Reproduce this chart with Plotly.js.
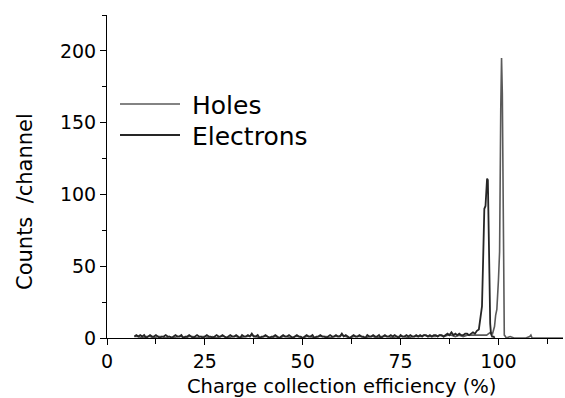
<!DOCTYPE html>
<html><head><meta charset="utf-8">
<script src="https://cdn.plot.ly/plotly-3.0.1.min.js"></script>
<style>html,body{margin:0;padding:0;background:#fff}#chart{width:565px;height:398px}</style>
</head><body><div id="chart"></div>
<script>
// Channel positions (% CCE) and counts per channel
const holesX = [7,8,9,10,11,12,13,14,15,16,17,18,19,20,21,22,23,24,25,26,27,28,29,30,31,32,33,34,35,36,37,38,39,40,41,42,43,44,45,46,47,48,49,50,51,52,53,54,55,56,57,58,59,60,61,62,63,64,65,66,67,68,69,70,71,72,73,74,75,76,77,78,79,80,81,82,83,84,85,86,87,88,89,90,91,92,93,94,95,96,97,97.5,98,98.5,99,99.3,99.6,100.0,100.3,100.6,100.8,101.0,101.3,101.5,101.8,102,103,104,105,106,107,108,108.3,108.6,110,112,115,117];
const holesY = [1,1,0,1,1,0,1,1,0,1,0,1,1,0,1,1,0,1,1,0,1,0,1,1,0,1,1,0,1,1,2,1,0,1,1,0,1,0,1,1,0,1,1,0,1,1,0,1,1,1,0,1,1,2,1,0,1,1,1,0,1,1,0,1,1,1,0,1,1,1,0,1,1,1,2,1,1,1,2,1,2,2,1,2,1,2,2,2,2,2,2,3,4,3,8,16,20,40,60,160,195,170,20,2,1,0,1,0,0,0,0,1,2,0,0,0,0,0];
const elecX = [7,7.5,8,8.5,9,9.5,10,10.5,11,11.5,12,12.5,13,13.5,14,14.5,15,15.5,16,16.5,17,17.5,18,18.5,19,19.5,20,20.5,21,21.5,22,22.5,23,23.5,24,24.5,25,25.5,26,26.5,27,27.5,28,28.5,29,29.5,30,30.5,31,31.5,32,32.5,33,33.5,34,34.5,35,35.5,36,36.5,37,37.5,38,38.5,39,39.5,40,40.5,41,41.5,42,42.5,43,43.5,44,44.5,45,45.5,46,46.5,47,47.5,48,48.5,49,49.5,50,50.5,51,51.5,52,52.5,53,53.5,54,54.5,55,55.5,56,56.5,57,57.5,58,58.5,59,59.5,60,60.5,61,61.5,62,62.5,63,63.5,64,64.5,65,65.5,66,66.5,67,67.5,68,68.5,69,69.5,70,70.5,71,71.5,72,72.5,73,73.5,74,74.5,75,75.5,76,76.5,77,77.5,78,78.5,79,79.5,80,80.5,81,81.5,82,82.5,83,83.5,84,84.5,85,85.5,86,86.5,87,87.5,88,88.5,89,89.5,90,90.5,91,91.5,92,92.5,93,93.5,94,94.5,95,95.5,95.8,96.1,96.4,96.7,96.9,97.1,97.3,97.5,97.7,97.9,98.1,98.4,98.8,99,99.5];
const elecY = [1,2,1,2,1,2,0,1,2,1,1,2,1,0,1,1,2,1,1,0,1,2,1,1,2,0,1,1,2,1,0,1,2,1,1,0,1,2,1,1,0,1,2,1,1,2,1,0,1,2,1,1,2,1,0,2,1,1,2,1,3,1,1,2,0,1,1,2,1,0,1,1,2,1,0,1,2,1,1,2,1,0,1,2,1,1,0,1,2,1,1,2,0,1,1,2,1,1,0,1,2,1,1,2,1,1,3,1,2,1,0,1,2,1,1,2,1,1,0,2,1,1,2,1,1,2,0,1,2,1,1,2,1,2,1,0,2,1,1,2,1,2,1,1,2,1,2,1,2,2,1,2,1,2,2,1,2,2,1,2,3,2,4,2,3,2,3,2,2,3,3,2,3,4,3,5,6,19,22,55,90,92,105,111,110,85,45,10,3,1,1,0];

const xTicks = [0,25,50,75,100];
const yTicks = [0,50,100,150,200];
const legendNames = ["Holes","Electrons"];
const colors = ["#5a5a5a","#262626"];

const traces = [
  {x: holesX, y: holesY, type:'scatter', mode:'lines', name: legendNames[0], line:{color:colors[0], width:1.6}, showlegend:false},
  {x: elecX, y: elecY, type:'scatter', mode:'lines', name: legendNames[1], line:{color:colors[1], width:1.8}, showlegend:false}
];

const fam = '"DejaVu Sans", sans-serif';
const tickFont = {family:fam, size:19, color:'#000'};
const layout = {
  width:565, height:398,
  margin:{l:107, r:2, t:15, b:60},
  paper_bgcolor:'#fff', plot_bgcolor:'#fff',
  xaxis:{range:[0,116.5], tickvals:xTicks, ticktext:xTicks.map(String), ticks:'outside', ticklen:6, tickwidth:1, tickcolor:'#000',
    minor:{dtick:12.5, ticks:'outside', ticklen:5, tickcolor:'#000', showgrid:false},
    showline:true, linecolor:'#000', linewidth:1, showgrid:false, zeroline:false, tickfont:tickFont},
  yaxis:{range:[0,225], tickvals:yTicks, ticktext:yTicks.map(String), ticks:'outside', ticklen:6, tickwidth:1, tickcolor:'#000',
    minor:{dtick:25, ticks:'outside', ticklen:4, tickcolor:'#000', showgrid:false},
    showline:true, linecolor:'#000', linewidth:1, showgrid:false, zeroline:false, tickfont:tickFont},
  shapes:[
    {type:'line', xref:'paper', yref:'paper', x0:(120-107)/456, x1:(180-107)/456, y0:(338-104)/323, y1:(338-104)/323, line:{color:colors[0], width:1.6}},
    {type:'line', xref:'paper', yref:'paper', x0:(120-107)/456, x1:(180-107)/456, y0:(338-135)/323, y1:(338-135)/323, line:{color:colors[1], width:1.8}}
  ],
  annotations:[
    {xref:'paper', yref:'paper', x:(341-107)/456, y:(338-386)/323, xanchor:'center', yanchor:'middle', showarrow:false, text:'Charge collection efficiency (%)', font:{family:fam, size:19.5, color:'#000'}},
    {xref:'paper', yref:'paper', x:(25-107)/456, y:(338-202)/323, xanchor:'center', yanchor:'middle', textangle:-90, showarrow:false, text:'Counts\u00a0 /channel', font:{family:fam, size:21, color:'#000'}},
    {xref:'paper', yref:'paper', x:(190-107)/456, y:(338-105)/323, xanchor:'left', yanchor:'middle', showarrow:false, text:legendNames[0], font:{family:fam, size:25, color:'#000'}},
    {xref:'paper', yref:'paper', x:(190-107)/456, y:(338-136)/323, xanchor:'left', yanchor:'middle', showarrow:false, text:legendNames[1], font:{family:fam, size:25, color:'#000'}}
  ]
};
Plotly.newPlot('chart', traces, layout, {displayModeBar:false, staticPlot:true});
</script></body></html>
